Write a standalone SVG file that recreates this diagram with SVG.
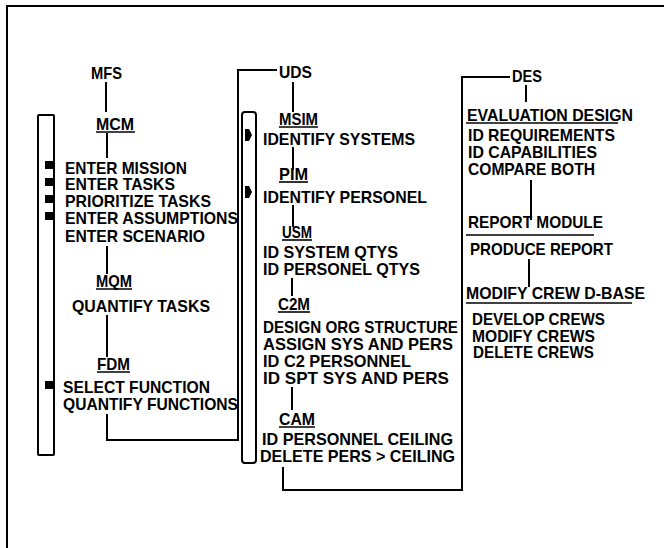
<svg xmlns="http://www.w3.org/2000/svg" width="664" height="548" viewBox="0 0 664 548">
<style>
text{font-family:"Liberation Sans",Arial,sans-serif;font-weight:bold;font-size:17px;fill:#000}
.ln{stroke:#000;stroke-width:2;fill:none}
.ul{stroke:#000;stroke-width:1.6}
.bar{stroke:#000;stroke-width:2;fill:#fff}
.mk{fill:#000}
</style>
<rect width="664" height="548" fill="#fff"/>
<g id="frame">
<path class="ln" d="M7,548 V6 H664"/>
</g>
<g id="connectors">
<path class="ln" d="M106,82 V112"/>
<path class="ln" d="M107,133 V158"/>
<path class="ln" d="M107,246 V274"/>
<path class="ln" d="M107,315 V357"/>
<path class="ln" d="M107,414 V440 H238 V70 H277"/>
<path class="ln" d="M293,82 V112"/>
<path class="ln" d="M293,147 V170"/>
<path class="ln" d="M293,205 V227"/>
<path class="ln" d="M292,278 V296"/>
<path class="ln" d="M292,387 V410"/>
<path class="ln" d="M283,467 V490 H462 V77 H510"/>
<path class="ln" d="M526,85 V102"/>
<path class="ln" d="M531,180 V220"/>
<path class="ln" d="M529,259 V287"/>
</g>
<g id="mfs-bar">
<rect class="bar" x="38" y="115" width="16" height="340" rx="1"/>
<rect class="mk" x="45" y="161" width="8" height="8"/>
<rect class="mk" x="45" y="178" width="8" height="8"/>
<rect class="mk" x="45" y="195" width="8" height="8"/>
<rect class="mk" x="45" y="212" width="8" height="8"/>
<rect class="mk" x="45" y="381" width="8" height="8"/>
</g>
<g id="uds-bar">
<rect class="bar" x="242" y="112" width="14" height="351" rx="3"/>
<path class="mk" d="M245,129 h4 l3,6 l-3,6 h-4 z"/>
<path class="mk" d="M245,186 h4 l3,6 l-3,6 h-4 z"/>
</g>
<g id="mfs"><text x="91" y="79" textLength="31" lengthAdjust="spacingAndGlyphs">MFS</text></g>
<g id="mcm">
<text x="96" y="130" textLength="38" lengthAdjust="spacingAndGlyphs">MCM</text>
<line class="ul" x1="96" y1="132" x2="135" y2="132"/>
<text x="65" y="174" textLength="122" lengthAdjust="spacingAndGlyphs">ENTER MISSION</text>
<text x="65" y="190" textLength="110" lengthAdjust="spacingAndGlyphs">ENTER TASKS</text>
<text x="65" y="207" textLength="146" lengthAdjust="spacingAndGlyphs">PRIORITIZE TASKS</text>
<text x="65" y="224" textLength="173" lengthAdjust="spacingAndGlyphs">ENTER ASSUMPTIONS</text>
<text x="65" y="242" textLength="140" lengthAdjust="spacingAndGlyphs">ENTER SCENARIO</text>
</g>
<g id="mqm">
<text x="96" y="287" textLength="36" lengthAdjust="spacingAndGlyphs">MQM</text>
<line class="ul" x1="96" y1="289" x2="132" y2="289"/>
<text x="72" y="312" textLength="138" lengthAdjust="spacingAndGlyphs">QUANTIFY TASKS</text>
</g>
<g id="fdm">
<text x="97" y="370" textLength="33" lengthAdjust="spacingAndGlyphs">FDM</text>
<line class="ul" x1="97" y1="372" x2="130" y2="372"/>
<text x="63" y="393" textLength="147" lengthAdjust="spacingAndGlyphs">SELECT FUNCTION</text>
<text x="63" y="410" textLength="175" lengthAdjust="spacingAndGlyphs">QUANTIFY FUNCTIONS</text>
</g>
<g id="uds"><text x="279" y="78" textLength="33" lengthAdjust="spacingAndGlyphs">UDS</text></g>
<g id="msim">
<text x="279" y="125" textLength="39" lengthAdjust="spacingAndGlyphs">MSIM</text>
<line class="ul" x1="279" y1="127" x2="318" y2="127"/>
<text x="263" y="145" textLength="152" lengthAdjust="spacingAndGlyphs">IDENTIFY SYSTEMS</text>
</g>
<g id="pim">
<text x="279" y="180" textLength="29" lengthAdjust="spacingAndGlyphs">PIM</text>
<line class="ul" x1="279" y1="182" x2="308" y2="182"/>
<text x="263" y="203" textLength="164" lengthAdjust="spacingAndGlyphs">IDENTIFY PERSONEL</text>
</g>
<g id="usm">
<text x="282" y="238" textLength="30" lengthAdjust="spacingAndGlyphs">USM</text>
<line class="ul" x1="282" y1="240" x2="312" y2="240"/>
<text x="263" y="258" textLength="135" lengthAdjust="spacingAndGlyphs">ID SYSTEM QTYS</text>
<text x="263" y="275" textLength="157" lengthAdjust="spacingAndGlyphs">ID PERSONEL QTYS</text>
</g>
<g id="c2m">
<text x="278" y="310" textLength="32" lengthAdjust="spacingAndGlyphs">C2M</text>
<line class="ul" x1="278" y1="312" x2="310" y2="312"/>
<text x="263" y="333" textLength="195" lengthAdjust="spacingAndGlyphs">DESIGN ORG STRUCTURE</text>
<text x="263" y="350" textLength="190" lengthAdjust="spacingAndGlyphs">ASSIGN SYS AND PERS</text>
<text x="263" y="367" textLength="148" lengthAdjust="spacingAndGlyphs">ID C2 PERSONNEL</text>
<text x="263" y="384" textLength="186" lengthAdjust="spacingAndGlyphs">ID SPT SYS AND PERS</text>
</g>
<g id="cam">
<text x="279" y="425" textLength="36" lengthAdjust="spacingAndGlyphs">CAM</text>
<line class="ul" x1="279" y1="427" x2="315" y2="427"/>
<text x="262" y="445" textLength="191" lengthAdjust="spacingAndGlyphs">ID PERSONNEL CEILING</text>
<text x="260" y="462" textLength="195" lengthAdjust="spacingAndGlyphs">DELETE PERS &gt; CEILING</text>
</g>
<g id="des"><text x="512" y="82" textLength="30" lengthAdjust="spacingAndGlyphs">DES</text></g>
<g id="evaluation-design">
<text x="467" y="121" textLength="166" lengthAdjust="spacingAndGlyphs">EVALUATION DESIGN</text>
<line class="ul" x1="466" y1="123" x2="618" y2="123"/>
<text x="468" y="141" textLength="147" lengthAdjust="spacingAndGlyphs">ID REQUIREMENTS</text>
<text x="468" y="158" textLength="129" lengthAdjust="spacingAndGlyphs">ID CAPABILITIES</text>
<text x="468" y="175" textLength="127" lengthAdjust="spacingAndGlyphs">COMPARE BOTH</text>
</g>
<g id="report-module">
<text x="468" y="228" textLength="135" lengthAdjust="spacingAndGlyphs">REPORT MODULE</text>
<line class="ul" x1="466" y1="235" x2="594" y2="235"/>
<text x="470" y="255" textLength="143" lengthAdjust="spacingAndGlyphs">PRODUCE REPORT</text>
</g>
<g id="modify-crew">
<text x="466" y="299" textLength="179" lengthAdjust="spacingAndGlyphs">MODIFY CREW D-BASE</text>
<line class="ul" x1="466" y1="303" x2="632" y2="303"/>
<text x="472" y="325" textLength="133" lengthAdjust="spacingAndGlyphs">DEVELOP CREWS</text>
<text x="472" y="342" textLength="123" lengthAdjust="spacingAndGlyphs">MODIFY CREWS</text>
<text x="473" y="358" textLength="121" lengthAdjust="spacingAndGlyphs">DELETE CREWS</text>
</g>
</svg>
